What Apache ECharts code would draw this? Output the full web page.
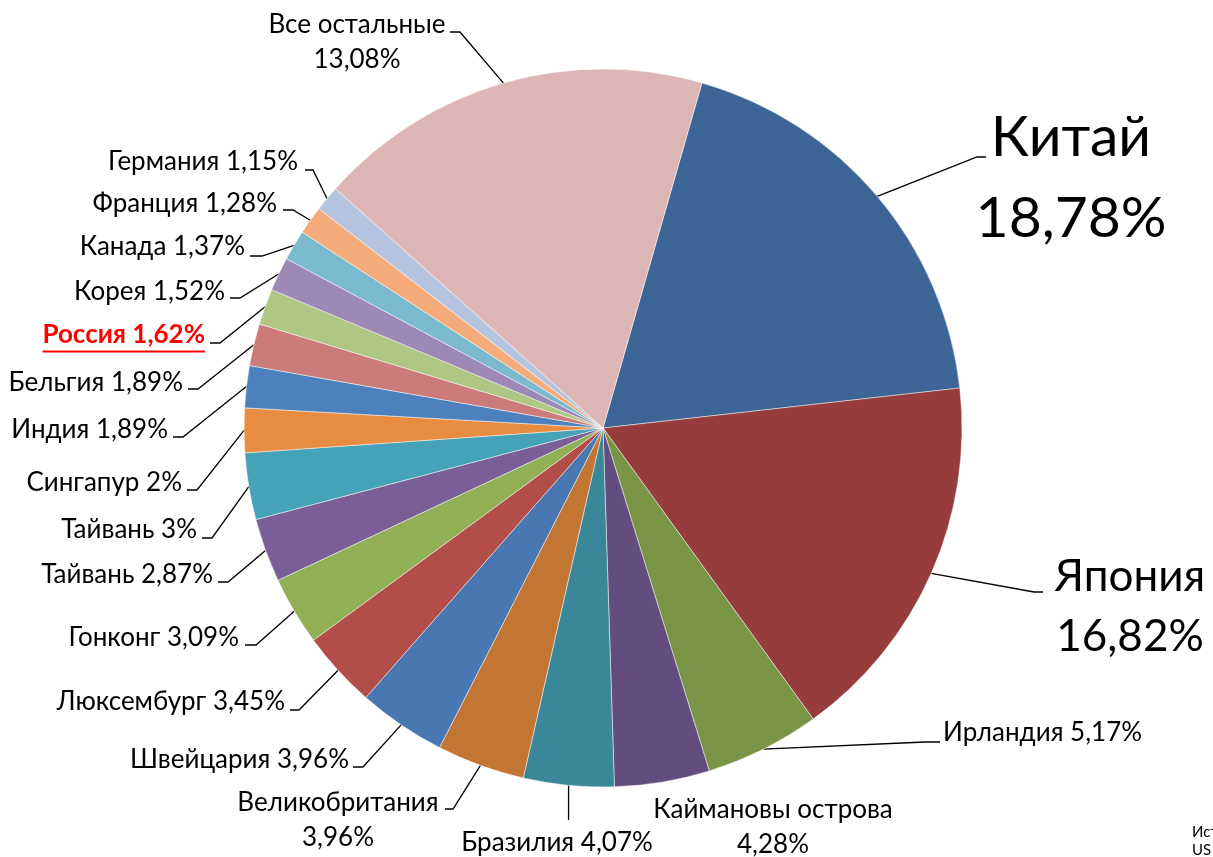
<!DOCTYPE html>
<html>
<head>
<meta charset="utf-8">
<script src="https://cdn.jsdelivr.net/npm/echarts@6/dist/echarts.min.js"></script>
<style>
html,body{margin:0;padding:0;background:#fff;}
#chart{width:1213px;height:857px;}
</style>
</head>
<body>
<div id="chart"></div>
<script>
// ---- data ----
const categories = ['Китай','Япония','Ирландия','Каймановы острова','Бразилия','Великобритания','Швейцария','Люксембург','Гонконг','Тайвань','Тайвань','Сингапур','Индия','Бельгия','Россия','Корея','Канада','Франция','Германия','Все остальные'];
const values = [18.78, 16.82, 5.17, 4.28, 4.07, 3.96, 3.96, 3.45, 3.09, 2.87, 3, 2, 1.89, 1.89, 1.62, 1.52, 1.37, 1.28, 1.15, 17.83];
const percentLabels = ['18,78%','16,82%','5,17%','4,28%','4,07%','3,96%','3,96%','3,45%','3,09%','2,87%','3%','2%','1,89%','1,89%','1,62%','1,52%','1,37%','1,28%','1,15%','13,08%'];
const sourceLines = ['Источник:', 'US Treasury'];

// ---- styles ----
const colors = ['#3C6595','#963C3C','#7A9445','#634D7E','#3A8799','#C37634','#4877B1','#B24D4A','#91AF55','#795E98','#46A2B9','#E78C40','#4D81BE','#CB7B79','#AFC685','#9D89B5','#7BBACE','#F6AB7A','#B4C4DE','#DDB5B5'];
const FONT = 'Lato, "Open Sans", sans-serif';
const SMALL = 26;
// label placement (layout only): anchor x/y, alignment, leader line end & elbow
const labelAnchors = [
  {x:1071, y:178, align:'center', lx:986, ly:157, ex:977, two:true, size:57, lh:81},
  {x:1130, y:607, align:'center', lx:1043, ly:592, ex:1034, two:true, size:44, lh:60},
  {x:943,  y:733, align:'left',   lx:940, ly:742, ex:925},
  {x:773,  y:827, align:'center', noLine:true, two:true},
  {x:557,  y:843, align:'center', down:true, ly:820},
  {x:338,  y:820, align:'center', lx:445, ly:809, ex:453, two:true},
  {x:349,  y:760, align:'right',  lx:353, ly:767, ex:363},
  {x:285,  y:702, align:'right',  lx:290, ly:710, ex:299},
  {x:239,  y:638, align:'right',  lx:245, ly:645, ex:256},
  {x:213,  y:575, align:'right',  lx:218, ly:582, ex:228},
  {x:197,  y:530, align:'right',  lx:202, ly:538, ex:212},
  {x:182,  y:483, align:'right',  lx:187, ly:490, ex:197},
  {x:168,  y:430, align:'right',  lx:173, ly:437, ex:183},
  {x:183,  y:383, align:'right',  lx:188, ly:389, ex:198},
  {x:205,  y:336, align:'right',  lx:210, ly:343, ex:220, russia:true},
  {x:225,  y:292, align:'right',  lx:230, ly:298, ex:240},
  {x:245,  y:247, align:'right',  lx:250, ly:256, ex:262},
  {x:277,  y:204, align:'right',  lx:283, ly:210, ex:293},
  {x:298,  y:162, align:'right',  lx:305, ly:170, ex:313},
  {x:357,  y:42,  align:'center', lx:450, ly:32,  ex:460, two:true}
];

function measure(text, font){
  const c = document.createElement('canvas').getContext('2d');
  c.font = font; return c.measureText(text).width;
}

const chart = echarts.init(document.getElementById('chart'), null, {renderer:'canvas'});

const seriesData = categories.map(function(name, i){
  const a = labelAnchors[i];
  const text = name + (a.two ? '\n' : ' ') + percentLabels[i];
  const item = {
    name: name,
    value: values[i],
    itemStyle: {color: colors[i]},
    label: {
      formatter: text,
      fontSize: a.size || SMALL,
      lineHeight: a.lh || 35
    }
  };
  if (a.russia) {
    const w = measure(text, 'bold ' + SMALL + 'px ' + FONT);
    item.label = {
      formatter: '{r|' + text + '}\n{u| }',
      rich: {
        r: {color:'#FF0000', fontWeight:'bold', fontSize:SMALL, lineHeight:31, fontFamily: FONT},
        u: {width: w, height: 2, lineHeight: 3, backgroundColor:'#FF0000', fontSize: 2}
      }
    };
  }
  if (a.noLine) item.labelLine = {show:false};
  return item;
});

chart.setOption({
  animation: false,
  backgroundColor: '#ffffff',
  textStyle: {fontFamily: FONT},
  series: [{
    type: 'pie',
    center: [603, 428],
    radius: 359,
    startAngle: 74,
    clockwise: true,
    avoidLabelOverlap: false,
    itemStyle: {borderColor: 'rgba(255,255,255,0.8)', borderWidth: 0.6},
    label: {
      show: true,
      position: 'outside',
      color: '#000',
      fontFamily: FONT,
      fontSize: SMALL
    },
    labelLine: {show: true, length: 15, length2: 10, lineStyle: {color: '#000', width: 1.3}},
    emphasis: {disabled: true},
    labelLayout: function(p){
      const a = labelAnchors[p.dataIndex];
      const out = {x: a.x, y: a.y, align: a.align, verticalAlign: 'middle'};
      const pts = p.labelLinePoints;
      if (pts && pts.length && !a.noLine) {
        const s = pts[0];
        if (a.down) {
          out.labelLinePoints = [s, [s[0], a.ly], [s[0], a.ly]];
        } else {
          out.labelLinePoints = [s, [a.ex, a.ly], [a.lx, a.ly]];
        }
      }
      return out;
    },
    data: seriesData
  }],
  graphic: [{
    type: 'text',
    left: 1192,
    top: 823,
    style: {text: sourceLines.join('\n'), font: '15px ' + FONT, fill: '#000', lineHeight: 18}
  }]
});
</script>
</body>
</html>
